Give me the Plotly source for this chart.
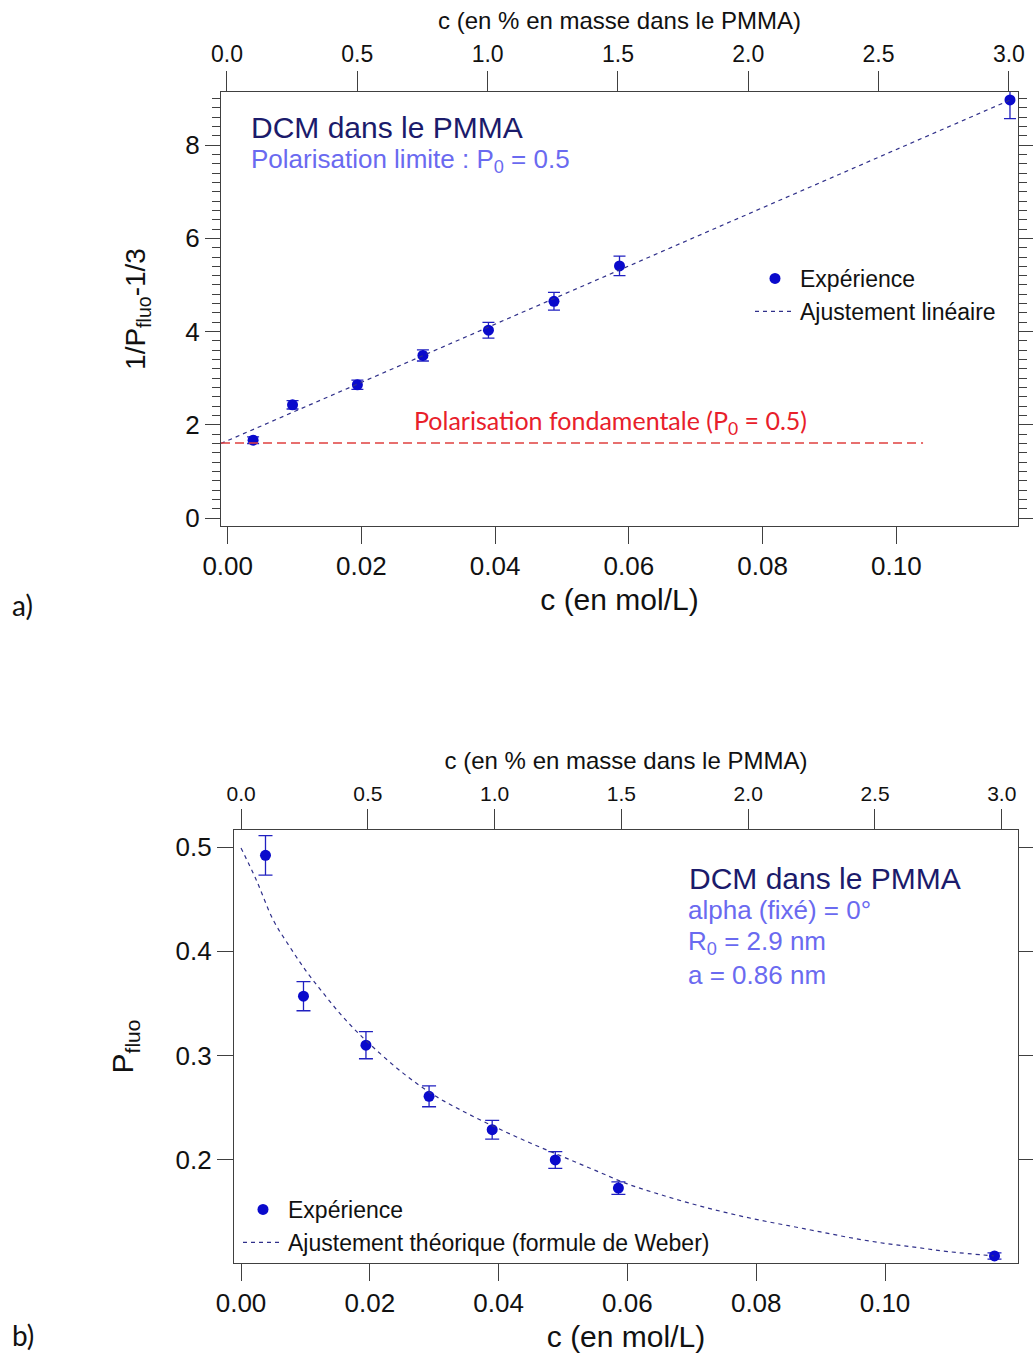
import plotly.graph_objects as go

# ---------------- data ----------------
conc = [0.0038, 0.0097, 0.0194, 0.0292, 0.0390, 0.0488, 0.0586, 0.1170]   # mol/L
inv_p = [1.67, 2.43, 2.86, 3.49, 4.03, 4.65, 5.41, 8.97]                  # 1/P - 1/3
inv_p_err = [0.07, 0.09, 0.10, 0.12, 0.17, 0.19, 0.21, 0.40]
lin_fit_x = [-0.001, 0.1172]
lin_fit_y = [1.60, 8.98]
p0_line_x = [-0.001, 0.104]
p0_line_y = [1.61, 1.61]

p_fluo = [0.492, 0.357, 0.310, 0.261, 0.229, 0.200, 0.173, 0.108]
p_fluo_err = [0.019, 0.014, 0.013, 0.010, 0.009, 0.008, 0.006, 0.003]
weber_x = [0.0, 0.0024, 0.005, 0.0075, 0.01, 0.0125, 0.015, 0.0175, 0.02, 0.025,
           0.03, 0.035, 0.04, 0.045, 0.05, 0.055, 0.06, 0.065, 0.07, 0.075,
           0.08, 0.085, 0.09, 0.095, 0.10, 0.105, 0.11, 0.1169]
weber_y = [0.499, 0.468, 0.430, 0.405, 0.382, 0.362, 0.343, 0.326, 0.311, 0.284,
           0.262, 0.245, 0.230, 0.216, 0.203, 0.190, 0.177, 0.167, 0.158, 0.150,
           0.143, 0.137, 0.131, 0.125, 0.120, 0.116, 0.112, 0.108]

top_tick_vals = [0.0, 0.5, 1.0, 1.5, 2.0, 2.5, 3.0]
bottom_tick_vals = [0.00, 0.02, 0.04, 0.06, 0.08, 0.10]

W, H = 1033, 1358
def px(v): return v / W
def py(v): return 1 - v / H

FONT = "Liberation Sans, Arial, sans-serif"
NARROW = "Lato, Liberation Sans, sans-serif"
MARK = "#0a0acc"
ERR = "#2020c0"
FIT = "#30308a"
AX = "#404040"
NAVY = "#1b1b6b"
LIGHT = "#6a6af0"

fig = go.Figure()

# ---- panel a ----
fig.add_trace(go.Scatter(x=conc, y=inv_p, mode="markers", name="Expérience",
                         marker=dict(color=MARK, size=11),
                         error_y=dict(type="data", array=inv_p_err, color=ERR, thickness=1.3, width=6),
                         xaxis="x", yaxis="y", legend="legend"))
fig.add_trace(go.Scatter(x=lin_fit_x, y=lin_fit_y, mode="lines", name="Ajustement linéaire",
                         line=dict(color=FIT, width=1.2, dash="4px,4px"),
                         xaxis="x", yaxis="y", legend="legend"))
fig.add_trace(go.Scatter(x=p0_line_x, y=p0_line_y, mode="lines", showlegend=False,
                         line=dict(color="#e0403f", width=1.5, dash="9px,5px"),
                         xaxis="x", yaxis="y"))
fig.add_trace(go.Scatter(x=[], y=[], xaxis="x2", yaxis="y", showlegend=False, hoverinfo="skip"))

# ---- panel b ----
fig.add_trace(go.Scatter(x=conc, y=p_fluo, mode="markers", name="Expérience",
                         marker=dict(color=MARK, size=11),
                         error_y=dict(type="data", array=p_fluo_err, color=ERR, thickness=1.3, width=7),
                         xaxis="x3", yaxis="y2", legend="legend2"))
fig.add_trace(go.Scatter(x=weber_x, y=weber_y, mode="lines", name="Ajustement théorique (formule de Weber)",
                         line=dict(color=FIT, width=1.2, dash="4px,4px", shape="spline"),
                         xaxis="x3", yaxis="y2", legend="legend2"))
fig.add_trace(go.Scatter(x=[], y=[], xaxis="x4", yaxis="y2", showlegend=False, hoverinfo="skip"))

common_axis = dict(showgrid=False, zeroline=False, linecolor=AX, linewidth=1.3,
                   tickcolor=AX, tickwidth=1.2, ticks="outside", automargin=False)

dom_a_x = [px(221), px(1018)]
dom_a_y = [py(526), py(92)]
dom_b_x = [px(234), px(1018)]
dom_b_y = [py(1263), py(830)]

fig.update_layout(
    width=W, height=H,
    margin=dict(l=0, r=0, t=0, b=0),
    paper_bgcolor="white", plot_bgcolor="white",
    font=dict(family=FONT, color="#111111"),
    xaxis=dict(common_axis, domain=dom_a_x, anchor="y", range=[-0.001, 0.1182],
               tickvals=bottom_tick_vals, tickformat=".2f", ticklen=17, showline=True, mirror=True,
               tickfont=dict(size=26),
               title=dict(text="c (en mol/L)", font=dict(size=30), standoff=8)),
    xaxis2=dict(common_axis, domain=dom_a_x, anchor="y", overlaying="x", side="top",
                range=[-0.023, 3.035], tickvals=top_tick_vals, tickformat=".1f", ticklen=20,
                showline=False, tickfont=dict(size=23),
                title=dict(text="c (en % en masse dans le PMMA)", font=dict(size=24), standoff=4)),
    yaxis=dict(common_axis, domain=dom_a_y, anchor="x", range=[-0.17, 9.14], dtick=2, ticklen=15,
               showline=True, mirror="ticks", tickfont=dict(size=26),
               minor=dict(dtick=0.2, ticklen=8, ticks="outside", tickcolor=AX, tickwidth=1.1),
               title=dict(text="1/P<sub>fluo</sub>-1/3", font=dict(size=28), standoff=31)),
    xaxis3=dict(common_axis, domain=dom_b_x, anchor="y2", range=[-0.00109, 0.12065],
                tickvals=bottom_tick_vals, tickformat=".2f", ticklen=17, showline=True, mirror=True,
                tickfont=dict(size=26),
                title=dict(text="c (en mol/L)", font=dict(size=30), standoff=8)),
    xaxis4=dict(common_axis, domain=dom_b_x, anchor="y2", overlaying="x3", side="top",
                range=[-0.0279, 3.064], tickvals=top_tick_vals, tickformat=".1f", ticklen=20,
                showline=False, tickfont=dict(size=21),
                title=dict(text="c (en % en masse dans le PMMA)", font=dict(size=24), standoff=5)),
    yaxis2=dict(common_axis, domain=dom_b_y, anchor="x3", range=[0.1012, 0.5163], dtick=0.1,
                tickformat=".1f", ticklen=16, showline=True, mirror="ticks", tickfont=dict(size=26),
                title=dict(text="P<sub>fluo</sub>", font=dict(size=30), standoff=32)),
    legend=dict(x=px(750), y=py(257), xanchor="left", yanchor="top", bgcolor="rgba(0,0,0,0)",
                font=dict(size=23, family=FONT, color="#111111"), itemwidth=40, tracegroupgap=0),
    legend2=dict(x=px(238), y=py(1188), xanchor="left", yanchor="top", bgcolor="rgba(0,0,0,0)",
                 font=dict(size=23, family=FONT, color="#111111"), itemwidth=40, tracegroupgap=0),
    showlegend=True,
)

ann = []
ann.append(dict(text="DCM dans le PMMA", x=px(249), y=py(127), xref="paper", yref="paper",
                xanchor="left", yanchor="middle", showarrow=False, font=dict(size=30, color=NAVY)))
ann.append(dict(text="Polarisation limite : P<sub>0</sub> = 0.5", x=px(249), y=py(160), xref="paper", yref="paper",
                xanchor="left", yanchor="middle", showarrow=False, font=dict(size=26, color=LIGHT)))
ann.append(dict(text="Polarisation fondamentale (P<sub>0</sub> = 0.5)", x=0.0572, y=2.06, xref="x", yref="y",
                xanchor="center", yanchor="middle", showarrow=False,
                font=dict(size=25, color="#e8202a", family=NARROW)))
ann.append(dict(text="DCM dans le PMMA", x=px(687), y=py(878), xref="paper", yref="paper",
                xanchor="left", yanchor="middle", showarrow=False, font=dict(size=30, color=NAVY)))
for txt, yy in [("alpha (fixé) = 0°", 910), ("R<sub>0</sub> = 2.9 nm", 942), ("a = 0.86 nm", 975)]:
    ann.append(dict(text=txt, x=px(686), y=py(yy), xref="paper", yref="paper",
                    xanchor="left", yanchor="middle", showarrow=False, font=dict(size=26, color=LIGHT)))
ann.append(dict(text="a)", x=px(10), y=py(605), xref="paper", yref="paper", xanchor="left", yanchor="middle",
                showarrow=False, font=dict(size=28, family=NARROW, color="#111111")))
ann.append(dict(text="b)", x=px(10), y=py(1335), xref="paper", yref="paper", xanchor="left", yanchor="middle",
                showarrow=False, font=dict(size=28, family=NARROW, color="#111111")))
fig.update_layout(annotations=ann)

fig.write_html("out.html", config={"displayModeBar": False},
               post_script="document.body.style.margin='0';document.body.style.overflow='hidden';")
